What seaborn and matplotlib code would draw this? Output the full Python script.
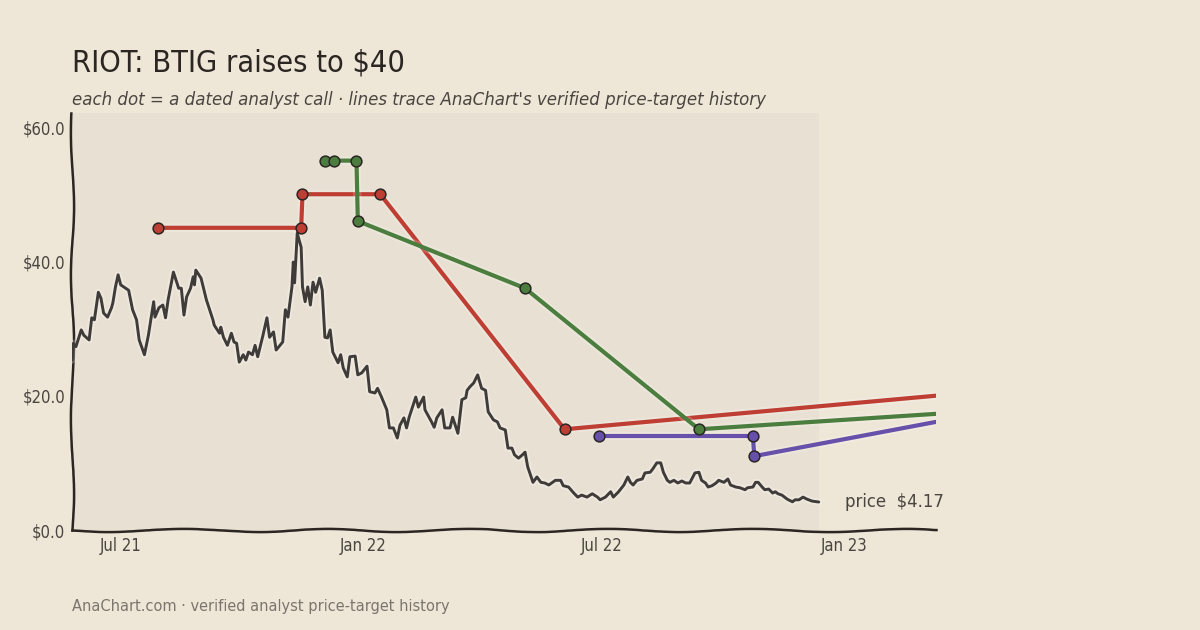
import seaborn as sns
import matplotlib.pyplot as plt
import matplotlib.dates as mdates
import matplotlib.patheffects as pe
import pandas as pd

# Price history (RIOT close)
price_dates = [
    '2021-05-25', '2021-05-26', '2021-05-28', '2021-06-01', '2021-06-03', '2021-06-07', '2021-06-09',
    '2021-06-11', '2021-06-14', '2021-06-16', '2021-06-18', '2021-06-21', '2021-06-24', '2021-06-25',
    '2021-06-27', '2021-06-29', '2021-07-01', '2021-07-07', '2021-07-10', '2021-07-13', '2021-07-15',
    '2021-07-19', '2021-07-22', '2021-07-26', '2021-07-27', '2021-07-30', '2021-08-02', '2021-08-04',
    '2021-08-06', '2021-08-10', '2021-08-14', '2021-08-16', '2021-08-18', '2021-08-20', '2021-08-23',
    '2021-08-25', '2021-08-26', '2021-08-27', '2021-08-31', '2021-09-04', '2021-09-09', '2021-09-10',
    '2021-09-14', '2021-09-15', '2021-09-17', '2021-09-20', '2021-09-23', '2021-09-25', '2021-09-27',
    '2021-09-29', '2021-10-02', '2021-10-04', '2021-10-06', '2021-10-09', '2021-10-11', '2021-10-13',
    '2021-10-17', '2021-10-20', '2021-10-22', '2021-10-25', '2021-10-27', '2021-11-01', '2021-11-03',
    '2021-11-05', '2021-11-08', '2021-11-09', '2021-11-10', '2021-11-12', '2021-11-15', '2021-11-16',
    '2021-11-18', '2021-11-20', '2021-11-22', '2021-11-24', '2021-11-26', '2021-11-29', '2021-12-01',
    '2021-12-03', '2021-12-05', '2021-12-07', '2021-12-09', '2021-12-13', '2021-12-15', '2021-12-17',
    '2021-12-20', '2021-12-22', '2021-12-26', '2021-12-28', '2021-12-31', '2022-01-04', '2022-01-06',
    '2022-01-10', '2022-01-12', '2022-01-15', '2022-01-19', '2022-01-21', '2022-01-24', '2022-01-27',
    '2022-01-29', '2022-02-01', '2022-02-03', '2022-02-05', '2022-02-10', '2022-02-12', '2022-02-16',
    '2022-02-17', '2022-02-22', '2022-02-24', '2022-02-26', '2022-03-02', '2022-03-04', '2022-03-08',
    '2022-03-10', '2022-03-14', '2022-03-17', '2022-03-20', '2022-03-21', '2022-03-23', '2022-03-26',
    '2022-03-29', '2022-04-01', '2022-04-04', '2022-04-06', '2022-04-10', '2022-04-13', '2022-04-15',
    '2022-04-19', '2022-04-21', '2022-04-24', '2022-04-26', '2022-04-29', '2022-05-02', '2022-05-04',
    '2022-05-06', '2022-05-10', '2022-05-13', '2022-05-16', '2022-05-19', '2022-05-22', '2022-05-27',
    '2022-05-31', '2022-06-02', '2022-06-06', '2022-06-10', '2022-06-13', '2022-06-16', '2022-06-20',
    '2022-06-24', '2022-06-28', '2022-06-30', '2022-07-04', '2022-07-08', '2022-07-10', '2022-07-14',
    '2022-07-18', '2022-07-21', '2022-07-23', '2022-07-25', '2022-07-28', '2022-08-01', '2022-08-03',
    '2022-08-07', '2022-08-09', '2022-08-12', '2022-08-15', '2022-08-17', '2022-08-20', '2022-08-22',
    '2022-08-25', '2022-08-28', '2022-08-31', '2022-09-03', '2022-09-06', '2022-09-10', '2022-09-13',
    '2022-09-15', '2022-09-18', '2022-09-20', '2022-09-23', '2022-09-26', '2022-09-28', '2022-10-02',
    '2022-10-05', '2022-10-07', '2022-10-11', '2022-10-14', '2022-10-18', '2022-10-20', '2022-10-24',
    '2022-10-26', '2022-10-28', '2022-10-31', '2022-11-02', '2022-11-05', '2022-11-08', '2022-11-10',
    '2022-11-12', '2022-11-15', '2022-11-19', '2022-11-23', '2022-11-25', '2022-11-28', '2022-12-01',
    '2022-12-04', '2022-12-08', '2022-12-13',
]
price_values = [
    25.3, 27.8, 27.3, 29.8, 29.0, 28.3, 31.6,
    31.3, 35.4, 34.5, 32.3, 31.7, 33.1, 33.8,
    36.2, 38.0, 36.5, 35.7, 32.8, 31.3, 28.3,
    26.1, 29.0, 34.0, 31.7, 33.1, 33.5, 31.6,
    34.3, 38.4, 36.0, 36.0, 32.0, 34.7, 36.0,
    37.7, 36.5, 38.7, 37.5, 34.3, 31.3, 30.5,
    29.3, 30.2, 28.7, 27.5, 29.3, 28.0, 27.8,
    25.0, 26.1, 25.3, 26.5, 26.1, 27.5, 25.8,
    29.0, 31.6, 28.7, 29.5, 26.8, 28.0, 32.8,
    31.7, 36.2, 39.9, 36.8, 44.2, 42.1, 36.2,
    34.0, 36.2, 33.5, 36.9, 35.4, 37.5, 35.7,
    28.7, 28.6, 29.8, 26.5, 24.9, 26.1, 24.1,
    22.8, 25.8, 25.9, 23.1, 23.4, 24.4, 20.6,
    20.4, 21.1, 19.8, 17.9, 15.2, 15.2, 13.7,
    15.6, 16.7, 15.2, 16.8, 19.8, 18.3, 19.8,
    17.9, 16.1, 15.3, 16.7, 17.9, 15.2, 15.2,
    16.8, 14.4, 19.4, 19.7, 20.8, 21.3, 21.9,
    23.1, 21.1, 20.8, 17.6, 16.4, 16.1, 15.2,
    14.9, 12.2, 12.2, 11.2, 10.7, 11.2, 11.6,
    9.4, 7.1, 7.9, 7.1, 7.0, 6.7, 7.4,
    7.4, 6.6, 6.4, 5.5, 4.9, 5.2, 4.9,
    5.4, 4.9, 4.5, 4.9, 5.7, 4.9, 5.7,
    6.7, 7.9, 7.1, 6.7, 7.4, 7.6, 8.5,
    8.6, 9.1, 10.0, 10.0, 8.6, 7.4, 7.1,
    7.4, 7.0, 7.3, 7.0, 7.0, 8.5, 8.6,
    7.4, 7.0, 6.4, 6.6, 7.0, 7.4, 7.1,
    7.6, 6.7, 6.4, 6.3, 6.0, 6.3, 6.4,
    7.1, 7.1, 6.4, 6.0, 6.1, 5.5, 5.7,
    5.4, 5.2, 4.6, 4.2, 4.5, 4.5, 4.9,
    4.6, 4.3, 4.17,
]

# Analyst price-target calls (one list per analyst)
red_dates = ['2021-07-29', '2021-11-15', '2021-11-16', '2022-01-14', '2022-06-03']
red_targets = [45, 45, 50, 50, 15]
green_dates = ['2021-12-03', '2021-12-10', '2021-12-27', '2021-12-28', '2022-05-04', '2022-09-13']
green_targets = [55, 55, 55, 46, 36, 15]
purple_dates = ['2022-06-29', '2022-10-24', '2022-10-25']
purple_targets = [14, 14, 11]

# where each trace sits at the right edge of the chart
edge_date = '2023-03-12'
red_edge, green_edge, purple_edge = 20.0, 17.3, 16.1

x_ticks = ['2021-07-01', '2022-01-01', '2022-07-01', '2023-01-01']
y_ticks = [0, 20, 40, 60]

title = 'RIOT: BTIG raises to $40'
subtitle = "each dot = a dated analyst call · lines trace AnaChart's verified price-target history"
footer = 'AnaChart.com · verified analyst price-target history'

BG = '#EEE6D6'
PANEL = '#E8E0D2'
INK = '#2B2622'

sns.set_style('white')
plt.rcParams['font.family'] = ['DejaVu Sans']
plt.rcParams['font.stretch'] = 'condensed'

price = pd.DataFrame({'date': pd.to_datetime(price_dates), 'price': price_values})

fig = plt.figure(figsize=(12, 6.3), dpi=100, facecolor=BG)
ax = fig.add_axes([0.06, 0.1587, 0.72, 0.662])
ax.set_facecolor(BG)

ax.axvspan(price['date'].iloc[0], price['date'].iloc[-1], color=PANEL, zorder=0, lw=0)

glow = [pe.Stroke(linewidth=5, foreground='white', alpha=0.25), pe.Normal()]
sns.lineplot(data=price, x='date', y='price', ax=ax, color='#3E3B38', lw=2.1,
             path_effects=glow, zorder=3)

series = [
    (red_dates, red_targets, red_edge, '#BE3E33'),
    (green_dates, green_targets, green_edge, '#4B7E3E'),
    (purple_dates, purple_targets, purple_edge, '#6650A9'),
]
for dates, targets, edge, col in series:
    calls = pd.DataFrame({'date': pd.to_datetime(dates), 'target': targets})
    path = pd.concat([calls, pd.DataFrame({'date': [pd.Timestamp(edge_date)], 'target': [edge]})])
    sns.lineplot(data=path, x='date', y='target', ax=ax, color=col, lw=3.0, sort=False,
                 estimator=None, path_effects=[pe.Stroke(linewidth=6, foreground='white', alpha=0.2), pe.Normal()],
                 zorder=4)
    sns.scatterplot(data=calls, x='date', y='target', ax=ax, color=col, s=60,
                    edgecolor='#2A2623', linewidth=1.1, zorder=5)

last = price.iloc[-1]
ax.annotate(f"price  ${last['price']:.2f}", xy=(last['date'], last['price']),
            xytext=(26, 0), textcoords='offset pixels', va='center', ha='left',
            fontsize=13.2, color='#4A4540', annotation_clip=False)

ax.set_xlim(price['date'].iloc[0], pd.Timestamp(edge_date))
ax.set_ylim(0, 62.1)
ax.set_xticks(pd.to_datetime(x_ticks))
ax.xaxis.set_major_formatter(mdates.DateFormatter('%b %y'))
ax.set_yticks(y_ticks)
ax.set_yticklabels([f'${v:.1f}' for v in y_ticks])
ax.tick_params(length=0, labelsize=12, labelcolor='#4A4540', pad=5)
ax.set_xlabel('')
ax.set_ylabel('')

for side in ['top', 'right']:
    ax.spines[side].set_visible(False)
for side in ['left', 'bottom']:
    ax.spines[side].set_color(INK)
    ax.spines[side].set_linewidth(1.8)
    ax.spines[side].set_sketch_params(scale=1.6, length=160, randomness=2)

fig.text(0.06, 0.9, title, fontsize=22, color=INK, va='center', ha='left')
fig.text(0.06, 0.841, subtitle, fontsize=13.3, color='#4A4540', style='italic', va='center', ha='left')
fig.text(0.06, 0.038, footer, fontsize=11.7, color='#7B756D', va='center', ha='left')

fig.savefig('out.png', dpi=100, facecolor=BG)
